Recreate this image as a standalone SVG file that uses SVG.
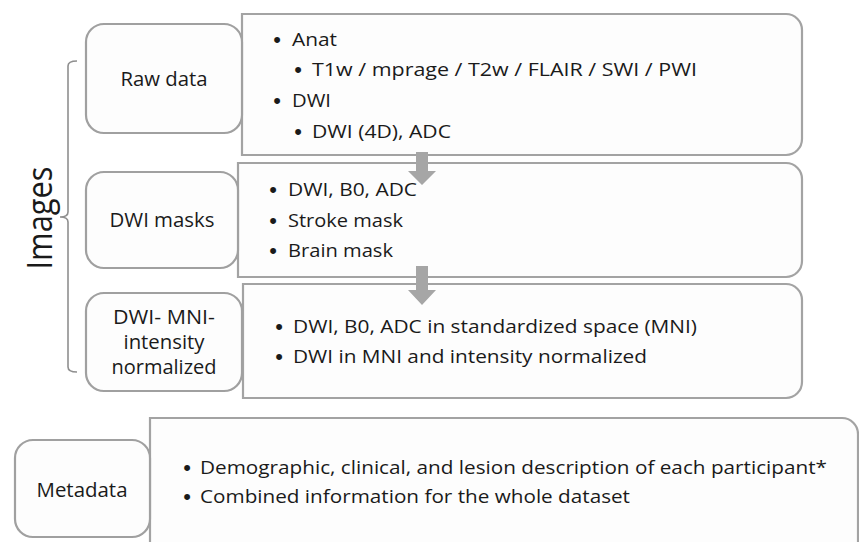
<svg xmlns="http://www.w3.org/2000/svg" width="859" height="542" viewBox="0 0 859 542">
  <style>
    .label-box { fill: #fdfdfd; stroke: #a0a0a0; stroke-width: 2.2; }
    .content-box { fill: #fdfdfd; stroke: #a3a3a3; stroke-width: 2.2; }
    .txt { font-family: "Open Sans", "Noto Sans", "Liberation Sans", sans-serif; fill: #1a1a1a; }
    .item { font-size: 18.8px; }
    .lbl { font-size: 19.5px; text-anchor: middle; }
    .bul { font-family: "Liberation Sans", Arial, sans-serif; font-size: 22px; text-anchor: middle; fill: #1a1a1a; }
    .flow { fill: #a6a6a6; }
    .brace { fill: none; stroke: #8f8f8f; stroke-width: 1.6; }
  </style>
  <rect width="859" height="542" fill="#ffffff"/>

  <!-- brace grouping the image stages -->
  <g id="images-group">
    <path class="brace" d="M77,61 Q68,61 68,66 V212 Q68,217 60,217 Q68,217 68,222 V367 Q68,372 77,372"/>
    <text class="txt" transform="translate(52,218) rotate(-90)" text-anchor="middle" font-size="34" textLength="103" lengthAdjust="spacingAndGlyphs">Images</text>
  </g>

  <!-- Raw data -->
  <g id="raw-data">
    <path class="content-box" d="M242,14 H786 A16,16 0 0 1 802,30 V139 A16,16 0 0 1 786,155 H242 Z"/>
    <rect class="label-box" x="86" y="24" width="156" height="109" rx="18"/>
    <text class="txt lbl" x="164" y="86" textLength="87" lengthAdjust="spacingAndGlyphs">Raw data</text>
    <text class="bul" x="277" y="47">•</text>
    <text class="txt item" x="292" y="46" textLength="45" lengthAdjust="spacingAndGlyphs">Anat</text>
    <text class="bul" x="298" y="77">•</text>
    <text class="txt item" x="312" y="76" textLength="385" lengthAdjust="spacingAndGlyphs">T1w / mprage / T2w / FLAIR / SWI / PWI</text>
    <text class="bul" x="277" y="108">•</text>
    <text class="txt item" x="292" y="107" textLength="39" lengthAdjust="spacingAndGlyphs">DWI</text>
    <text class="bul" x="298" y="139">•</text>
    <text class="txt item" x="312" y="138" textLength="139" lengthAdjust="spacingAndGlyphs">DWI (4D), ADC</text>
  </g>

  <!-- DWI masks -->
  <g id="dwi-masks">
    <path class="content-box" d="M238,163 H786 A16,16 0 0 1 802,179 V261 A16,16 0 0 1 786,277 H238 Z"/>
    <rect class="label-box" x="86" y="172" width="152" height="96" rx="18"/>
    <text class="txt lbl" x="162" y="227" textLength="105" lengthAdjust="spacingAndGlyphs">DWI masks</text>
    <text class="bul" x="273" y="197">•</text>
    <text class="txt item" x="288" y="196" textLength="129" lengthAdjust="spacingAndGlyphs">DWI, B0, ADC</text>
    <text class="bul" x="273" y="228">•</text>
    <text class="txt item" x="288" y="227" textLength="115" lengthAdjust="spacingAndGlyphs">Stroke mask</text>
    <text class="bul" x="273" y="258">•</text>
    <text class="txt item" x="288" y="257" textLength="105" lengthAdjust="spacingAndGlyphs">Brain mask</text>
  </g>

  <!-- DWI in MNI, intensity normalized -->
  <g id="dwi-mni">
    <path class="content-box" d="M243,284 H786 A16,16 0 0 1 802,300 V382 A16,16 0 0 1 786,398 H243 Z"/>
    <rect class="label-box" x="86" y="293" width="156" height="98" rx="18"/>
    <text class="txt lbl" x="164" y="324" textLength="102" lengthAdjust="spacingAndGlyphs">DWI- MNI-</text>
    <text class="txt lbl" x="164" y="349" textLength="81" lengthAdjust="spacingAndGlyphs">intensity</text>
    <text class="txt lbl" x="164" y="374" textLength="105" lengthAdjust="spacingAndGlyphs">normalized</text>
    <text class="bul" x="279" y="334">•</text>
    <text class="txt item" x="293" y="333" textLength="404" lengthAdjust="spacingAndGlyphs">DWI, B0, ADC in standardized space (MNI)</text>
    <text class="bul" x="279" y="364">•</text>
    <text class="txt item" x="293" y="363" textLength="354" lengthAdjust="spacingAndGlyphs">DWI in MNI and intensity normalized</text>
  </g>

  <!-- Metadata -->
  <g id="metadata">
    <path class="content-box" d="M150,418 H842 A16,16 0 0 1 858,434 V560 H150 Z"/>
    <rect class="label-box" x="15" y="440" width="135" height="97" rx="18"/>
    <text class="txt lbl" x="82" y="497" font-size="21" textLength="91" lengthAdjust="spacingAndGlyphs">Metadata</text>
    <text class="bul" x="187" y="475">•</text>
    <text class="txt item" x="200" y="474" textLength="627" lengthAdjust="spacingAndGlyphs">Demographic, clinical, and lesion description of each participant*</text>
    <text class="bul" x="187" y="504">•</text>
    <text class="txt item" x="200" y="503" textLength="430" lengthAdjust="spacingAndGlyphs">Combined information for the whole dataset</text>
  </g>

  <!-- processing-step arrows -->
  <g id="connectors">
    <path class="flow" d="M416,152 H428 V171 H436 L422,185 L408,171 H416 Z"/>
    <path class="flow" d="M416,266 H428 V290 H436 L422,305 L408,290 H416 Z"/>
  </g>
</svg>
